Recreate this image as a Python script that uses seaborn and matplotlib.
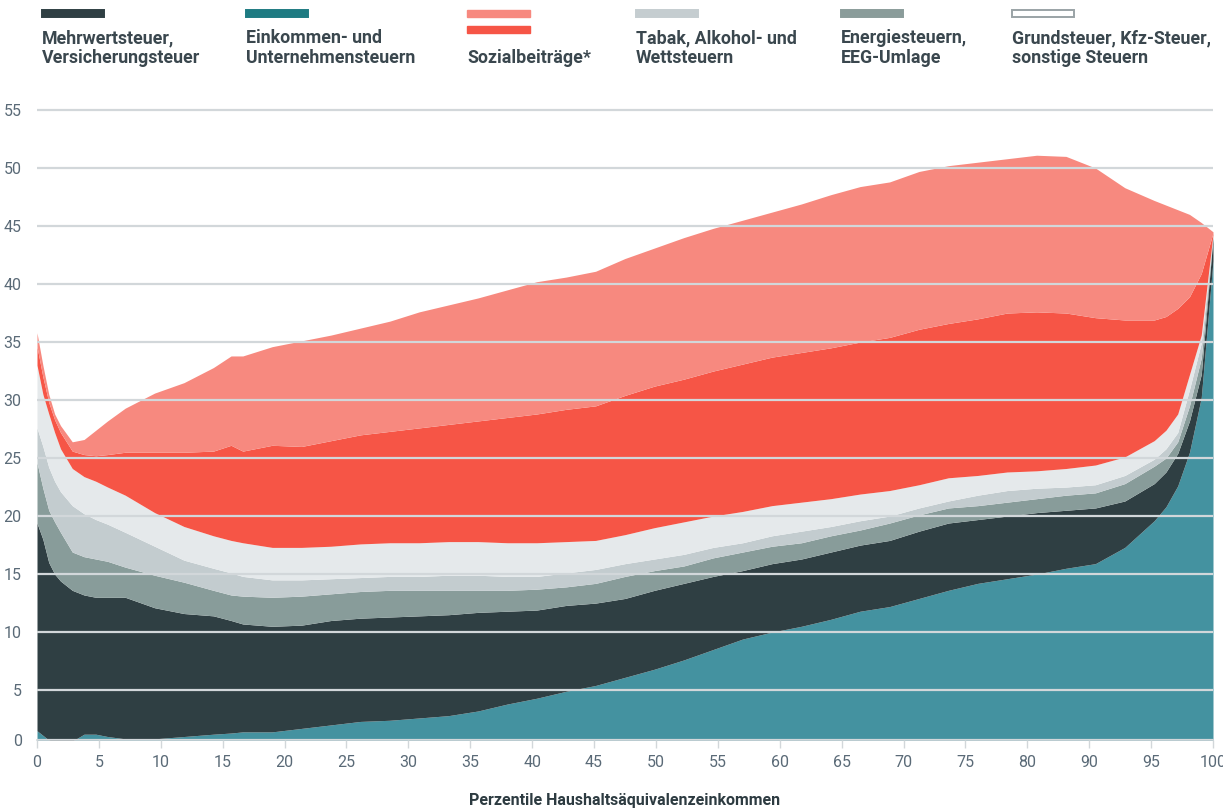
import numpy as np
import matplotlib
matplotlib.use("Agg")
import matplotlib.pyplot as plt
from matplotlib.patches import Rectangle
import seaborn as sns

# percentile position along the axis (0..100)
perzentil = [0, 0.5, 1, 1.5, 2, 3, 4, 5, 6, 7.5, 10, 12.5, 15, 16.5, 17.5, 20, 22.5, 25,
             27.5, 30, 32.5, 35, 37.5, 40, 42.5, 45, 47.5, 50, 52.5, 55, 57.5, 60, 62.5,
             65, 67.5, 70, 72.5, 75, 77.5, 80, 82.5, 85, 87.5, 90, 92.5, 95, 96, 97, 98,
             99, 100]

einkommen = [1.5, 1.1, 0.7, 0.5, 0.4, 0.6, 1.2, 1.2, 1.0, 0.8, 0.8, 1.0, 1.2, 1.3, 1.4, 1.4,
             1.7, 2.0, 2.3, 2.4, 2.6, 2.8, 3.2, 3.8, 4.3, 4.9, 5.4, 6.1, 6.8, 7.6, 8.5, 9.4,
             10.0, 10.5, 11.1, 11.8, 12.2, 12.9, 13.6, 14.2, 14.6, 15.0, 15.5, 15.9, 17.3,
             19.6, 20.8, 22.6, 25.5, 30.2, 42.0]
mehrwert = [17.9, 16.9, 15.3, 14.5, 14.0, 13.0, 12.0, 11.8, 12.0, 12.2, 11.3, 10.6, 10.2,
            9.7, 9.3, 9.1, 8.9, 9.0, 8.9, 8.9, 8.8, 8.7, 8.5, 8.0, 7.6, 7.4, 7.1, 6.8, 6.8,
            6.6, 6.3, 5.9, 5.9, 5.8, 5.8, 5.7, 5.7, 5.8, 5.8, 5.5, 5.4, 5.3, 5.0, 4.8, 4.0,
            3.2, 3.0, 2.8, 2.7, 2.0, 2.0]
energie = [5.2, 4.4, 4.5, 4.5, 4.2, 3.3, 3.3, 3.3, 3.1, 2.6, 2.8, 2.7, 2.2, 2.2, 2.4, 2.5,
           2.5, 2.3, 2.3, 2.3, 2.2, 2.1, 1.9, 1.8, 1.8, 1.6, 1.7, 1.9, 1.7, 1.5, 1.6, 1.6,
           1.5, 1.4, 1.4, 1.3, 1.5, 1.4, 1.3, 1.2, 1.2, 1.2, 1.3, 1.3, 1.5, 1.5, 1.2, 1.0,
           1.3, 1.4, 0.1]
tabak = [3.0, 3.6, 3.7, 3.5, 3.5, 4.0, 3.7, 3.4, 3.2, 3.0, 2.5, 1.9, 1.9, 1.9, 1.7, 1.5,
         1.4, 1.3, 1.2, 1.2, 1.2, 1.3, 1.3, 1.2, 1.1, 1.2, 1.2, 1.1, 1.0, 1.0, 0.9, 0.8,
         0.9, 1.0, 0.8, 0.8, 0.6, 0.6, 0.6, 0.9, 1.0, 0.9, 0.7, 0.7, 0.7, 0.6, 0.8, 0.8,
         1.4, 1.3, 0.1]
grund = [5.4, 4.5, 4.6, 4.2, 3.7, 3.2, 3.2, 3.3, 3.2, 3.2, 2.9, 2.9, 2.8, 2.8, 2.9, 2.8,
         2.8, 2.8, 2.9, 2.9, 2.9, 2.9, 2.9, 2.9, 2.9, 2.7, 2.5, 2.5, 2.7, 2.8, 2.7, 2.7,
         2.6, 2.5, 2.4, 2.3, 2.2, 2.0, 2.0, 1.7, 1.6, 1.5, 1.6, 1.7, 1.6, 1.6, 1.6, 1.6,
         1.3, 0.7, 0.1]
sozial_dunkel = [1.6, 1.5, 1.0, 1.1, 1.4, 1.5, 1.9, 2.2, 2.8, 3.7, 5.2, 6.4, 7.3, 8.2, 7.9,
                 8.8, 8.7, 9.1, 9.4, 9.6, 9.9, 10.1, 10.4, 10.8, 11.1, 11.4, 11.6, 12.0,
                 12.2, 12.3, 12.5, 12.7, 12.8, 12.9, 13.0, 13.1, 13.2, 13.4, 13.3, 13.5,
                 13.7, 13.7, 13.4, 12.7, 11.8, 10.4, 9.8, 9.1, 6.7, 5.3, 0.1]
sozial_hell = [1.2, 1.0, 0.7, 0.5, 0.6, 0.8, 1.3, 2.2, 2.9, 3.8, 5.1, 6.0, 7.2, 7.7, 8.2,
               8.5, 9.1, 9.1, 9.2, 9.5, 10.0, 10.3, 10.6, 11.0, 11.4, 11.4, 11.6, 11.8,
               11.9, 12.2, 12.3, 12.4, 12.5, 12.8, 13.2, 13.4, 13.4, 13.6, 13.6, 13.5,
               13.3, 13.5, 13.5, 12.9, 11.4, 10.3, 9.6, 8.5, 7.1, 4.4, 0.1]

tick_labels = ["0", "5", "10", "15", "20", "25", "30", "35", "40", "45", "50", "55",
               "60", "65", "70", "75", "80", "90", "95", "100"]

legend_names = ["Mehrwertsteuer,\nVersicherungsteuer", "Einkommen- und\nUnternehmensteuern",
                "\nSozialbeiträge*", "Tabak, Alkohol- und\nWettsteuern",
                "Energiesteuern,\nEEG-Umlage", "Grundsteuer, Kfz-Steuer,\nsonstige Steuern"]

c_teal = "#4492a0"
c_dark = "#2f3f43"
c_energie = "#889c9a"
c_tabak = "#c3cccf"
c_grund = "#e5e9eb"
c_rot = "#f65546"
c_rosa = "#f7897f"

sns.set_theme(style="white")
plt.rcParams["font.family"] = ["Roboto", "DejaVu Sans"]

fig = plt.figure(figsize=(12.23, 8.11), dpi=100)
ax = fig.add_axes([37 / 1223, 1 - 740 / 811, 1176 / 1223, 633.5 / 811])

ax.stackplot(perzentil, einkommen, mehrwert, energie, tabak, grund, sozial_dunkel, sozial_hell,
             colors=[c_teal, c_dark, c_energie, c_tabak, c_grund, c_rot, c_rosa],
             linewidth=0, zorder=1)

ymin = 0.7
ax.set_xlim(0, 100)
ax.set_ylim(ymin, 55.3)
ax.set_yticks([ymin] + list(range(5, 60, 5)))
ax.set_yticklabels(["0"] + [str(v) for v in range(5, 60, 5)])
ax.set_xticks(np.linspace(0, 100, len(tick_labels)))
ax.set_xticklabels(tick_labels)

ax.set_axisbelow(False)
ax.yaxis.grid(True, color="#d2d7da", linewidth=1.6)
ax.xaxis.grid(False)
for s in ["top", "left", "right"]:
    ax.spines[s].set_visible(False)
ax.spines["bottom"].set_color("#d2d7da")
ax.spines["bottom"].set_linewidth(1.2)

ax.tick_params(axis="y", length=0, pad=11, labelsize=11.5, labelcolor="#5a6a77")
ax.tick_params(axis="x", length=6, width=1, color="#d2d7da", pad=5, labelsize=11.5,
               labelcolor="#5a6a77", bottom=True)

fig.text(625 / 1223, 1 - 801 / 811, "Perzentile Haushaltsäquivalenzeinkommen",
         ha="center", va="center", fontsize=11.5, fontweight="bold", color="#2d3b41")

# legend across the top
legend_x = [42, 246, 467, 636, 841, 1012]
bar_colors = [c_dark, "#1e7b82", None, "#c5cdd0", "#8a9c9a", "white"]
for i, name in enumerate(legend_names):
    x0 = legend_x[i] / 1223
    if i == 2:
        fig.patches.append(Rectangle((x0, 1 - 17 / 811), 63 / 1223, 7 / 811,
                                     transform=fig.transFigure, color=c_rosa))
        fig.patches.append(Rectangle((x0, 1 - 33 / 811), 63 / 1223, 7 / 811,
                                     transform=fig.transFigure, color=c_rot))
    else:
        ec = "#9aa3a6" if i == 5 else bar_colors[i]
        fig.patches.append(Rectangle((x0, 1 - 17 / 811), 62 / 1223, 7 / 811,
                                     transform=fig.transFigure, facecolor=bar_colors[i],
                                     edgecolor=ec, linewidth=1.4))
    fig.text(x0, 1 - 48 / 811, name, ha="left", va="center", fontsize=12.8,
             fontweight="bold", color="#3a474e", linespacing=1.15)

fig.savefig("out.png", dpi=100)
